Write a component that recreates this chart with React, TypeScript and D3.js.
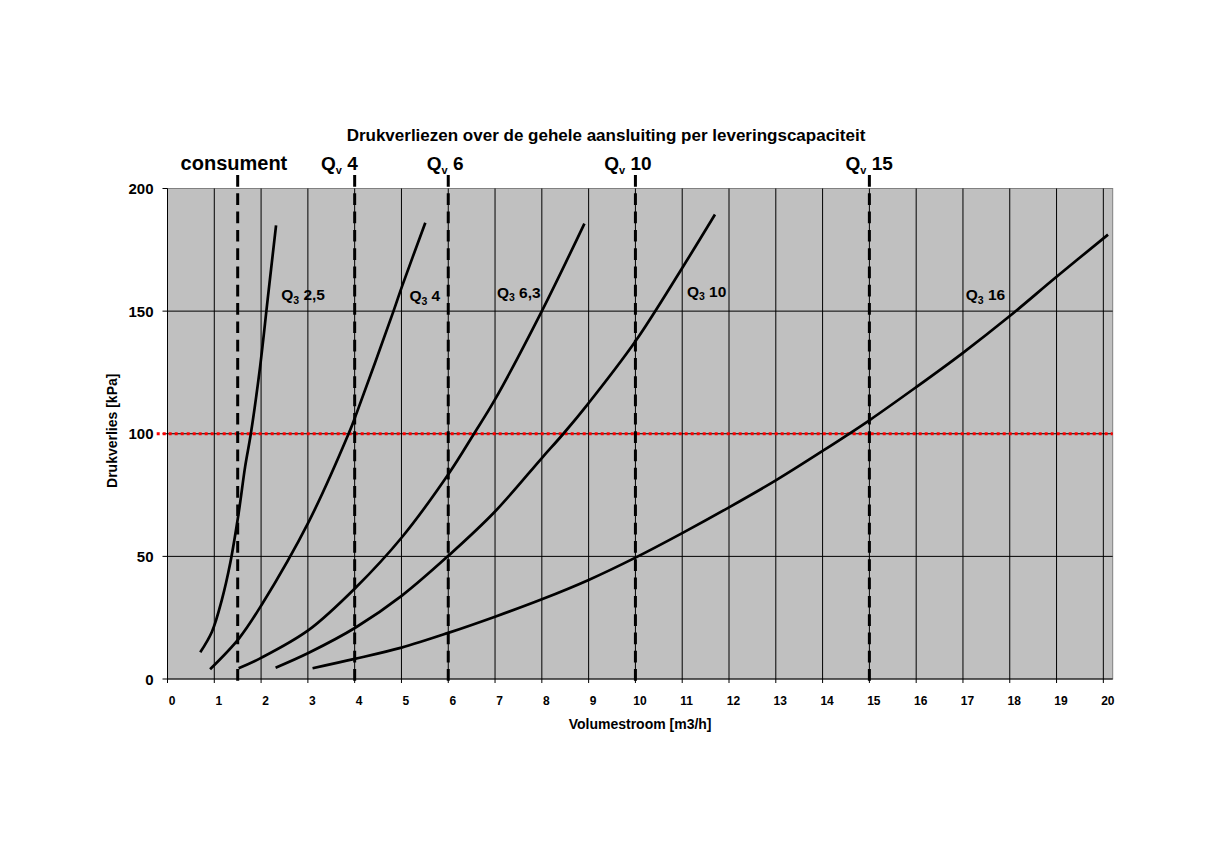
import React from 'react';
import * as d3 from 'd3';

// ---- data ----
const xTicks = d3.range(0, 21);
const yTicks = [0, 50, 100, 150, 200];
const yGrid = [50, 100, 150];

const q25X = [0.7, 0.95, 1.16, 1.34, 1.52, 1.66, 1.78, 1.98, 2.14, 2.32];
const q25Y = [10.9, 19.3, 32.2, 47.2, 67.6, 86.7, 99.9, 127.5, 154.7, 185];

const q4X = [0.91, 1.53, 2.01, 3.02, 3.87, 4.03, 4.83, 5.01, 5.51];
const q4Y = [4, 16.6, 30.2, 64.2, 100, 107.8, 150, 160, 186];

const q63X = [1.52, 2.01, 3.02, 4.03, 5.01, 6.02, 6.55, 7, 8, 8.91];
const q63Y = [4.4, 8.7, 20, 37.4, 57.8, 84, 100, 114, 150, 185.7];

const q10X = [2.31, 3.02, 4.03, 5.01, 6, 7, 8, 8.46, 9, 10, 11, 11.7];
const q10Y = [4.6, 10.7, 21.1, 34, 50.2, 68.3, 90.1, 100, 112.5, 137.7, 167.6, 189.4];

const q16X = [3.1, 4, 5, 6, 7, 8, 9, 10, 11, 12, 13, 14, 15, 16, 17, 18, 19, 20.1];
const q16Y = [4.4, 8.2, 12.8, 18.8, 25.4, 32.5, 40.4, 49.5, 59.5, 70, 81, 93, 105.5, 119, 133, 148, 164, 181.2];

const seriesX = [q25X, q4X, q63X, q10X, q16X];
const seriesY = [q25Y, q4Y, q63Y, q10Y, q16Y];
const seriesNames = ['2,5', '4', '6,3', '10', '16'];
const seriesLabelX = [2.43, 5.17, 7.04, 11.1, 17.06];
const seriesLabelY = [154.5, 154.0, 155.5, 155.9, 154.5];

const capacityLines = [1.5, 4, 6, 10, 15];
const capacityNames = ['consument', '4', '6', '10', '15'];
const capacityLabelX = [1.42, 3.28, 5.54, 9.335, 14.49];

const limitValue = 100;

const title = 'Drukverliezen over de gehele aansluiting per leveringscapaciteit';
const xTitle = 'Volumestroom [m3/h]';
const yTitle = 'Drukverlies [kPa]';

// ---- layout ----
const W = 1213;
const H = 857;
const left = 167.5;
const right = 1112.7;
const top = 188.5;
const bottom = 679;
const FONT = '"Liberation Sans", Arial, Helvetica, sans-serif';

export default function App() {
  const x = d3.scaleLinear().domain([0, 20.2]).range([left, right]);
  const y = d3.scaleLinear().domain([0, 200]).range([bottom, top]);
  const line = d3
    .line<[number, number]>()
    .x((d) => x(d[0]))
    .y((d) => y(d[1]))
    .curve(d3.curveCatmullRom.alpha(0.5));

  return (
    <svg
      width={W}
      height={H}
      style={{ position: 'absolute', left: 0, top: 0, background: '#fff' }}
      fontFamily={FONT}
    >
      <rect x={0} y={0} width={W} height={H} fill="#fff" />
      {/* title */}
      <text x={606} y={140.7} textAnchor="middle" fontSize={17} fontWeight="bold">
        {title}
      </text>

      {/* plot area */}
      <rect x={left} y={top} width={right - left} height={bottom - top} fill="#c0c0c0" stroke="#808080" strokeWidth={1} />

      {/* gridlines */}
      {xTicks.filter((t) => t > 0).map((t) => (
        <line key={'vx' + t} x1={x(t)} x2={x(t)} y1={top} y2={bottom} stroke="#000" strokeWidth={1} />
      ))}
      {yGrid.map((t) => (
        <line key={'hy' + t} x1={left} x2={right} y1={y(t)} y2={y(t)} stroke="#000" strokeWidth={1} />
      ))}

      {/* axes */}
      <line x1={left} x2={left} y1={top} y2={bottom} stroke="#000" strokeWidth={1} />
      <line x1={left} x2={right} y1={bottom} y2={bottom} stroke="#000" strokeWidth={1} />
      {xTicks.map((t) => (
        <g key={'xt' + t}>
          <line x1={x(t)} x2={x(t)} y1={bottom} y2={bottom + 4} stroke="#000" strokeWidth={1} />
          <text x={x(t) + 4.5} y={705} textAnchor="middle" fontSize={12} fontWeight="bold">
            {t}
          </text>
        </g>
      ))}
      {yTicks.map((t) => (
        <g key={'yt' + t}>
          <line x1={left - 5} x2={left} y1={y(t)} y2={y(t)} stroke="#000" strokeWidth={1} />
          <text x={153.5} y={y(t) + 5.5} textAnchor="end" fontSize={15} fontWeight="bold">
            {t}
          </text>
        </g>
      ))}

      {/* axis titles */}
      <text x={(left + right) / 2} y={729.3} textAnchor="middle" fontSize={14} fontWeight="bold">
        {xTitle}
      </text>
      <text
        transform={`translate(117,${(top + bottom) / 2 - 3}) rotate(-90)`}
        textAnchor="middle"
        fontSize={14}
        fontWeight="bold"
      >
        {yTitle}
      </text>

      {/* limit line */}
      <line
        x1={156.7}
        x2={right}
        y1={y(limitValue)}
        y2={y(limitValue)}
        stroke="#ff0000"
        strokeWidth={3}
        strokeDasharray="3 3"
      />

      {/* capacity dashed lines */}
      {capacityLines.map((c, i) => (
        <line
          key={'cap' + i}
          x1={x(c)}
          x2={x(c)}
          y1={175}
          y2={686}
          stroke="#000"
          strokeWidth={3}
          strokeDasharray="11.7 6.6"
        />
      ))}

      {/* capacity labels */}
      {capacityNames.map((n, i) =>
        i === 0 ? (
          <text key={'cl' + i} x={x(capacityLabelX[i])} y={170} textAnchor="middle" fontSize={20} fontWeight="bold">
            {n}
          </text>
        ) : (
          <text key={'cl' + i} x={x(capacityLabelX[i])} y={169.5} fontSize={19} fontWeight="bold">
            Q
            <tspan fontSize={11} dy={4}>
              v
            </tspan>
            <tspan dy={-4}>{' ' + n}</tspan>
          </text>
        )
      )}

      {/* curves */}
      {seriesX.map((xs, i) => (
        <path
          key={'s' + i}
          d={line(xs.map((v, j) => [v, seriesY[i][j]] as [number, number])) || ''}
          fill="none"
          stroke="#000"
          strokeWidth={2.7}
          strokeLinecap="butt"
        />
      ))}

      {/* curve labels */}
      {seriesNames.map((n, i) => (
        <text key={'sl' + i} x={x(seriesLabelX[i])} y={y(seriesLabelY[i])} fontSize={15.5} fontWeight="bold">
          Q
          <tspan fontSize={10.5} dy={3.5}>
            3
          </tspan>
          <tspan dy={-3.5}>{' ' + n}</tspan>
        </text>
      ))}
    </svg>
  );
}
